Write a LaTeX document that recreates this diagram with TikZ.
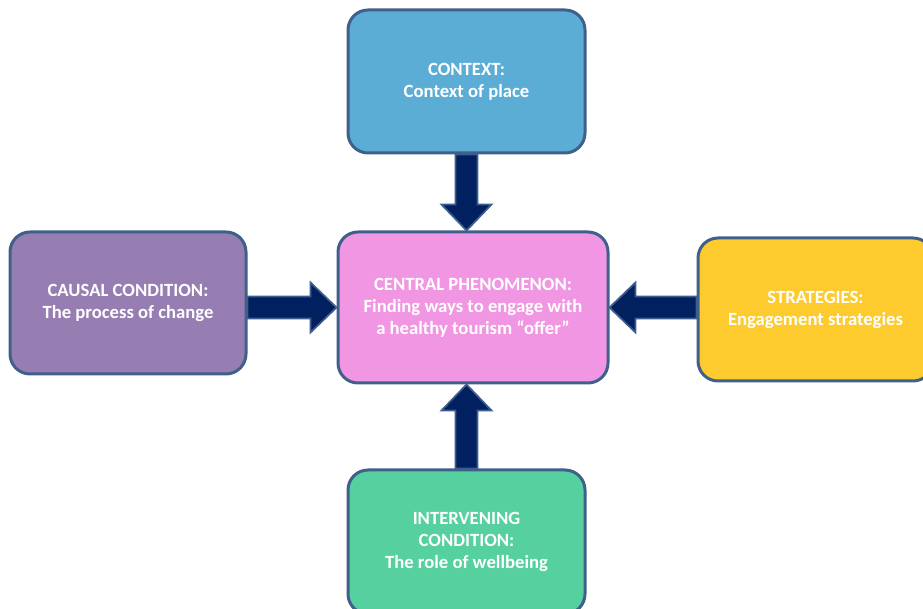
\documentclass[tikz,border=0pt]{standalone}
\usepackage{fontspec}
\setmainfont{Carlito}
\usetikzlibrary{calc}
\definecolor{boxedge}{RGB}{64,96,140}
\definecolor{ctxblue}{RGB}{91,173,213}
\definecolor{ctrpink}{RGB}{241,150,226}
\definecolor{causepurple}{RGB}{150,125,178}
\definecolor{stratyellow}{RGB}{253,203,46}
\definecolor{intgreen}{RGB}{86,208,158}
\definecolor{arrownavy}{RGB}{0,32,96}
\definecolor{arrowedge}{RGB}{62,92,140}

\tikzset{
  paradigm/.style={draw=boxedge, line width=2.25pt, rounded corners=15pt,
    text=white, align=center, font=\bfseries\fontsize{14}{16.5}\selectfont},
  blockarrow/.style={draw=arrowedge, fill=arrownavy, line width=1.3pt, line join=miter}
}

% block arrow from #1 to #2 (tip at #2)
\newcommand{\paraarrow}[2]{%
  \draw[blockarrow] let \p1=(#1), \p2=(#2),
    \n1={atan2(\y2-\y1,\x2-\x1)}, \n2={veclen(\x2-\x1,\y2-\y1)} in
    [shift={(\p1)}, rotate=\n1]
    (0pt,8.25pt) -- (\n2-19.5pt,8.25pt) -- (\n2-19.5pt,18.75pt) -- (\n2,0pt)
    -- (\n2-19.5pt,-18.75pt) -- (\n2-19.5pt,-8.25pt) -- (0pt,-8.25pt) -- cycle;}

\begin{document}
\begin{tikzpicture}[x=0.75pt,y=0.75pt]
\clip (0,0) rectangle (923,609);

% the five boxes
\node[paradigm, fill=ctxblue, minimum width=177.75pt, minimum height=107.25pt]
  (ctx) at (466.5,527.5) {CONTEXT:\\Context of place};
\node[paradigm, fill=ctrpink, minimum width=202.5pt, minimum height=113.25pt]
  (ctr) at (473,301.5) {CENTRAL PHENOMENON:\\Finding ways to engage with\\a healthy tourism “offer”};
\node[paradigm, fill=causepurple, minimum width=177pt, minimum height=106.5pt]
  (cause) at (128,306) {CAUSAL CONDITION:\\The process of change};
\node[paradigm, fill=stratyellow, minimum width=176.25pt, minimum height=107.25pt]
  (strat) at (815.5,299.5) {STRATEGIES:\\Engagement strategies};
\node[paradigm, fill=intgreen, minimum width=177.75pt, minimum height=108pt]
  (interv) at (466.5,67) {INTERVENING\\CONDITION:\\The role of wellbeing};

% arrows into the centre
\paraarrow{ctx.south}{ctx.south |- ctr.north}
\paraarrow{ctr.west -| cause.east}{ctr.west}
\paraarrow{ctr.east -| strat.west}{ctr.east}
\paraarrow{interv.north}{interv.north |- ctr.south}
\end{tikzpicture}
\end{document}
